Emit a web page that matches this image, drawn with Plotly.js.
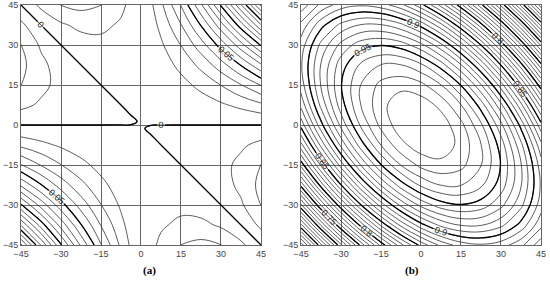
<!DOCTYPE html>
<html>
<head>
<meta charset="utf-8">
<script src="https://cdn.plot.ly/plotly-3.0.1.min.js"></script>
<style>
  html, body { margin: 0; padding: 0; background: #fff; }
  #chart { width: 550px; height: 281px; }
</style>
</head>
<body>
<div id="chart"></div>
<script>
// siatka (a) - gestsza kolo zera
const siatkaA = [-45, -37.5, -30, -22.5, -15, -7.5, -3.75, -1.25, 0, 1.25, 3.75, 7.5, 15, 22.5, 30, 37.5, 45];
// siatka (b)
const siatkaB = [-45, -37.5, -30, -22.5, -15, -7.5, 0, 7.5, 15, 22.5, 30, 37.5, 45];
const tickVals = [-45, -30, -15, 0, 15, 30, 45];

// wartosci (a), wiersze od y=-45 do y=45
const zA = [
  [0.18225, 0.13922, 0.10125, 0.06834, 0.0405, 0.01772, 0.0082142, 0.0025885, 1e-6, 0.0024748, 0.0069755, 0.01266, 0.02025, 0.02278, 0.02025, 0.01266, 1e-6],
  [0.13922, 0.10547, 0.07594, 0.05063, 0.02953, 0.01266, 0.0057907, 0.0018055, 1e-6, 0.0017108, 0.0047585, 0.00844, 0.01266, 0.01266, 0.00844, 1e-6, -0.01266],
  [0.10125, 0.07594, 0.054, 0.03544, 0.02025, 0.00844, 0.003789, 0.0011633, 1e-6, 0.0010875, 0.0029632, 0.00506, 0.00675, 0.00506, 1e-6, -0.00844, -0.02025],
  [0.06834, 0.05063, 0.03544, 0.02278, 0.01266, 0.00506, 0.0022092, 0.0006616, 1e-6, 0.0006048, 0.0015899, 0.00253, 0.00253, 1e-6, -0.00506, -0.01266, -0.02278],
  [0.0405, 0.02953, 0.02025, 0.01266, 0.00675, 0.00253, 0.0010513, 0.0003006, 1e-6, 0.0002627, 0.0006384, 0.00084, 1e-6, -0.00253, -0.00675, -0.01266, -0.02025],
  [0.01772, 0.01266, 0.00844, 0.00506, 0.00253, 8.4475e-4, 3.174e-4, 8.303e-5, 1e-6, 5.959e-5, 1.0647e-4, 1e-6, -0.00084, -0.00253, -0.00506, -0.00844, -0.01266],
  [0.008239, 0.0058109, 0.0038048, 0.0022204, 0.0010581, 3.174e-4, 1.0647e-4, 2.444e-5, 1e-6, 1.272e-5, 1e-6, -1.0447e-4, -6.272e-4, -0.0015741, -0.002943, -0.0047337, -0.0069463],
  [0.0026147, 0.0018273, 0.0011805, 6.744e-4, 3.088e-4, 8.303e-5, 2.444e-5, 4.906e-6, 1e-6, 1e-6, -1.072e-5, -5.759e-5, -2.529e-4, -5.906e-4, -0.0010687, -0.0016876, -0.002447],
  [1e-6, 1e-6, 1e-6, 1e-6, 1e-6, 1e-6, 1e-6, 1e-6, 1e-6, 1e-6, 1e-6, 1e-6, 1e-6, 1e-6, 1e-6, 1e-6, 1e-6],
  [-0.002447, -0.0016876, -0.0010687, -5.906e-4, -2.529e-4, -5.759e-5, -1.072e-5, 1e-6, 1e-6, 4.906e-6, 2.444e-5, 8.303e-5, 3.088e-4, 6.744e-4, 0.0011805, 0.0018273, 0.0026147],
  [-0.0069463, -0.0047337, -0.002943, -0.0015741, -6.272e-4, -1.0447e-4, 1e-6, 1.272e-5, 1e-6, 2.444e-5, 1.0647e-4, 3.174e-4, 0.0010581, 0.0022204, 0.0038048, 0.0058109, 0.008239],
  [-0.01266, -0.00844, -0.00506, -0.00253, -0.00084, 1e-6, 1.0647e-4, 5.959e-5, 1e-6, 8.303e-5, 3.174e-4, 8.4475e-4, 0.00253, 0.00506, 0.00844, 0.01266, 0.01772],
  [-0.02025, -0.01266, -0.00675, -0.00253, 1e-6, 0.00084, 0.0006384, 0.0002627, 1e-6, 0.0003006, 0.0010513, 0.00253, 0.00675, 0.01266, 0.02025, 0.02953, 0.0405],
  [-0.02278, -0.01266, -0.00506, 1e-6, 0.00253, 0.00253, 0.0015899, 0.0006048, 1e-6, 0.0006616, 0.0022092, 0.00506, 0.01266, 0.02278, 0.03544, 0.05063, 0.06834],
  [-0.02025, -0.00844, 1e-6, 0.00506, 0.00675, 0.00506, 0.0029632, 0.0010875, 1e-6, 0.0011633, 0.003789, 0.00844, 0.02025, 0.03544, 0.054, 0.07594, 0.10125],
  [-0.01266, 1e-6, 0.00844, 0.01266, 0.01266, 0.00844, 0.0047585, 0.0017108, 1e-6, 0.0018055, 0.0057907, 0.01266, 0.02953, 0.05063, 0.07594, 0.10547, 0.13922],
  [1e-6, 0.01266, 0.02025, 0.02278, 0.02025, 0.01266, 0.0069755, 0.0024748, 1e-6, 0.0025885, 0.0082142, 0.01772, 0.0405, 0.06834, 0.10125, 0.13922, 0.18225]
];

// wartosci (b)
const zB = [
  [0.60355, 0.65775, 0.70799, 0.75342, 0.79326, 0.82683, 0.85355, 0.87298, 0.88477, 0.88872, 0.88477, 0.87298, 0.85355],
  [0.65775, 0.71138, 0.76052, 0.80431, 0.84201, 0.87298, 0.89668, 0.91271, 0.92079, 0.92079, 0.91271, 0.89668, 0.87298],
  [0.70799, 0.76052, 0.80802, 0.84967, 0.88477, 0.91271, 0.93302, 0.94534, 0.94947, 0.94534, 0.93302, 0.91271, 0.88477],
  [0.75342, 0.80431, 0.84967, 0.88872, 0.92079, 0.94534, 0.96194, 0.97031, 0.97031, 0.96194, 0.94534, 0.92079, 0.88872],
  [0.79326, 0.84201, 0.88477, 0.92079, 0.94947, 0.97031, 0.98297, 0.98720, 0.98297, 0.97031, 0.94947, 0.92079, 0.88477],
  [0.82683, 0.87298, 0.91271, 0.94534, 0.97031, 0.98720, 0.99572, 0.99572, 0.98720, 0.97031, 0.94534, 0.91271, 0.87298],
  [0.85355, 0.89668, 0.93302, 0.96194, 0.98297, 0.99572, 1, 0.99572, 0.98297, 0.96194, 0.93302, 0.89668, 0.85355],
  [0.87298, 0.91271, 0.94534, 0.97031, 0.98720, 0.99572, 0.99572, 0.98720, 0.97031, 0.94534, 0.91271, 0.87298, 0.82683],
  [0.88477, 0.92079, 0.94947, 0.97031, 0.98297, 0.98720, 0.98297, 0.97031, 0.94947, 0.92079, 0.88477, 0.84201, 0.79326],
  [0.88872, 0.92079, 0.94534, 0.96194, 0.97031, 0.97031, 0.96194, 0.94534, 0.92079, 0.88872, 0.84967, 0.80431, 0.75342],
  [0.88477, 0.91271, 0.93302, 0.94534, 0.94947, 0.94534, 0.93302, 0.91271, 0.88477, 0.84967, 0.80802, 0.76052, 0.70799],
  [0.87298, 0.89668, 0.91271, 0.92079, 0.92079, 0.91271, 0.89668, 0.87298, 0.84201, 0.80431, 0.76052, 0.71138, 0.65775],
  [0.85355, 0.87298, 0.88477, 0.88872, 0.88477, 0.87298, 0.85355, 0.82683, 0.79326, 0.75342, 0.70799, 0.65775, 0.60355]
];

// poziomy izolinii [start, koniec, krok]
const poziomyA = [-0.02, 0.18, 0.01];
const poziomyAGrube = [0, 0.15, 0.05];
const poziomyB = [0.61, 0.99, 0.01];
const poziomyBGrube = [0.65, 0.95, 0.05];

const izolinie = (siatka, z, poziomy, xa, ya, grubosc, kolor, etykiety) => {
  return {
    type: 'contour',
    x: siatka,
    y: siatka,
    z: z,
    xaxis: xa,
    yaxis: ya,
    showscale: false,
    hoverinfo: 'skip',
    contours: {
      coloring: 'none',
      start: poziomy[0],
      end: poziomy[1],
      size: poziomy[2],
      showlabels: etykiety,
      labelformat: '.2~f',
      labelfont: {family: 'Liberation Sans, Arial, sans-serif', size: 9, color: '#222'}
    },
    line: {color: kolor, width: grubosc, smoothing: 1.1}
  };
};

const data = [
  izolinie(siatkaA, zA, poziomyA, 'x', 'y', 0.8, '#333', false),
  izolinie(siatkaA, zA, poziomyAGrube, 'x', 'y', 1.3, '#000', true),
  izolinie(siatkaB, zB, poziomyB, 'x2', 'y2', 0.8, '#333', false),
  izolinie(siatkaB, zB, poziomyBGrube, 'x2', 'y2', 1.3, '#000', true)
];

const os = (domena, kotwica) => ({
  domain: domena,
  anchor: kotwica,
  range: [-45, 45],
  tickvals: tickVals,
  showgrid: true,
  gridcolor: '#666',
  gridwidth: 1,
  zeroline: false,
  showline: true,
  mirror: true,
  linecolor: '#666',
  linewidth: 1,
  ticks: '',
  tickfont: {family: 'Liberation Sans, Arial, sans-serif', size: 9, color: '#444'}
});

const layout = {
  width: 550,
  height: 281,
  margin: {l: 0, r: 0, t: 0, b: 0},
  paper_bgcolor: '#fff',
  plot_bgcolor: '#fff',
  showlegend: false,
  xaxis: os([0.0382, 0.4745], 'y'),
  yaxis: os([0.1281, 0.9822], 'x'),
  xaxis2: os([0.5473, 0.9836], 'y2'),
  yaxis2: os([0.1281, 0.9822], 'x2'),
  annotations: [
    {text: '<b>(a)</b>', xref: 'paper', yref: 'paper', x: 141 / 550, y: 11 / 281, yanchor: 'middle', showarrow: false,
     font: {family: 'Liberation Serif, serif', size: 11, color: '#000'}},
    {text: '<b>(b)</b>', xref: 'paper', yref: 'paper', x: 421 / 550, y: 11 / 281, yanchor: 'middle', showarrow: false,
     font: {family: 'Liberation Serif, serif', size: 11, color: '#000'}}
  ]
};

Plotly.newPlot('chart', data, layout, {staticPlot: true});
</script>
</body>
</html>
